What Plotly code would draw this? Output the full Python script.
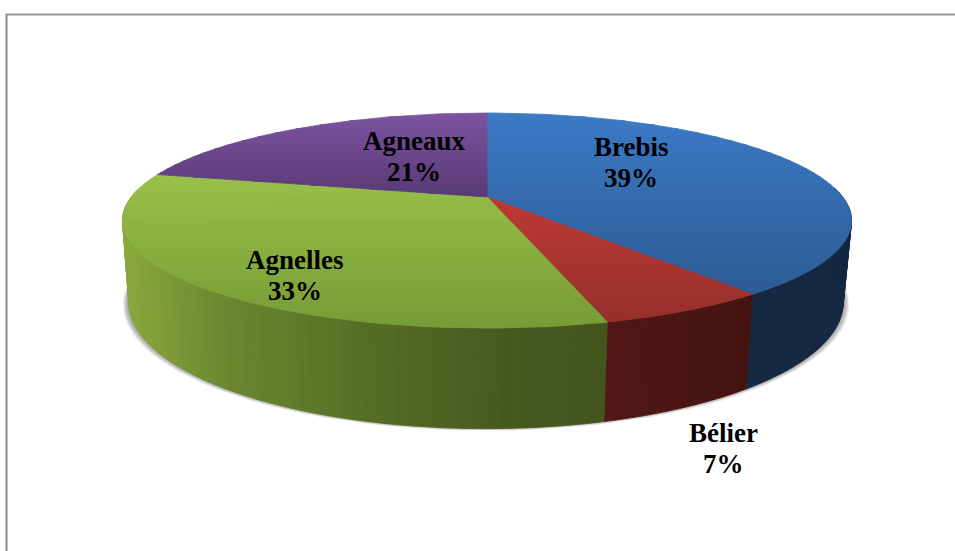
import math
import plotly.graph_objects as go

categories = ["Brebis", "Bélier", "Agnelles", "Agneaux"]
values = [39.4, 6.3, 33.0, 21.3]
percent_labels = ["39%", "7%", "33%", "21%"]

# Styles: top-face gradient (top colour, bottom colour), wall stops (x fraction, colour)
top_colors = [((60, 122, 198), (45, 92, 148)),
              ((190, 58, 52), (150, 48, 44)),
              ((153, 192, 72), (120, 156, 54)),
              ((124, 84, 160), (90, 58, 118))]
wall_stops = [[(0.0, (20, 40, 66)), (1.0, (20, 40, 66))],
              [(0.0, (82, 24, 21)), (1.0, (68, 19, 16))],
              [(0.0, (138, 168, 60)), (0.2, (108, 136, 48)), (0.5, (85, 110, 38)),
               (0.8, (70, 90, 30)), (1.0, (66, 85, 28))],
              [(0.0, (60, 40, 80)), (1.0, (60, 40, 80))]]
label_xy = [(631, 147), (723, 433), (295, 260), (414, 141)]
LINE_GAP = 31

# Perspective projection of the circular top and base
K = 0.219
TOP = dict(cx=487.0, cy=197.0, a=355.7, b=102.4)
BASE = dict(cx=486.0, cy=275.0, a=348.5, b=120.0)


def project(deg, p):
    t = math.radians(deg)
    w = 1 + K * math.cos(t)
    return p["cx"] + p["a"] * math.sin(t) / w, p["cy"] - p["b"] * math.cos(t) / w


def mix(c1, c2, f):
    f = min(1, max(0, f))
    return tuple(c1[i] + (c2[i] - c1[i]) * f for i in range(3))


def css(c):
    return "rgb(%d,%d,%d)" % tuple(round(v) for v in c)


def clip(poly, y0, keep_below):
    out = []
    for i, a in enumerate(poly):
        b = poly[(i + 1) % len(poly)]
        ina = a[1] >= y0 if keep_below else a[1] <= y0
        inb = b[1] >= y0 if keep_below else b[1] <= y0
        if ina:
            out.append(a)
        if ina != inb:
            f = (y0 - a[1]) / (b[1] - a[1])
            out.append((a[0] + (b[0] - a[0]) * f, y0))
    return out


def polygon(pts, color, lw=1.0):
    xs = [p[0] for p in pts] + [pts[0][0]]
    ys = [p[1] for p in pts] + [pts[0][1]]
    return go.Scatter(x=xs, y=ys, mode="lines", fill="toself", fillcolor=color,
                      line=dict(color=color, width=lw), hoverinfo="skip", showlegend=False)


fig = go.Figure()

# soft shadow under the base
arc_all = list(range(0, 360, 3))
for n in range(7, 0, -1):
    sx = n * 0.85
    sy = n * 0.45
    pts = []
    for d in arc_all:
        x, y = project(d, BASE)
        pts.append((BASE["cx"] + (x - BASE["cx"]) * (1 + sx / 357), y + sy - 1))
    fig.add_trace(polygon(pts, "rgba(60,60,60,0.085)", 0))

# slice angle boundaries
total = sum(values)
edges = [0.0]
for v in values:
    edges.append(edges[-1] + v / total * 360)

# walls
for i in range(len(values)):
    a0, a1 = max(edges[i], 85), min(edges[i + 1], 275)
    if a1 <= a0:
        continue
    n = max(1, int((a1 - a0) / 1.5))
    xs_ends = [project(a0, TOP)[0], project(a1, TOP)[0]]
    lo, hi = (min(xs_ends), max(xs_ends))
    if i == 2:
        lo = 122.0
    for j in range(n):
        d0 = a0 + (a1 - a0) * j / n
        d1 = a0 + (a1 - a0) * (j + 1) / n
        pts = [project(d0, TOP), project(d1, TOP), project(d1, BASE), project(d0, BASE)]
        xm = (pts[0][0] + pts[1][0]) / 2
        f = (xm - lo) / (hi - lo) if hi > lo else 0
        stops = wall_stops[i]
        col = stops[-1][1]
        for s0, s1 in zip(stops, stops[1:]):
            if f <= s1[0]:
                col = mix(s0[1], s1[1], (f - s0[0]) / (s1[0] - s0[0]))
                break
        fig.add_trace(polygon(pts, css(col), 0.8))

# top faces, split in horizontal bands for the vertical gradient
BAND = 4
for i in range(len(values)):
    a0, a1 = edges[i], edges[i + 1]
    n = max(4, int((a1 - a0) / 1.5))
    poly = [(TOP["cx"], TOP["cy"])] + [project(a0 + (a1 - a0) * j / n, TOP) for j in range(n + 1)]
    ymin = min(p[1] for p in poly)
    ymax = max(p[1] for p in poly)
    y = ymin
    while y < ymax:
        band = clip(clip(poly, y, True), y + BAND, False)
        if len(band) >= 3:
            f = (y + BAND / 2 - ymin) / (ymax - ymin)
            fig.add_trace(polygon(band, css(mix(top_colors[i][0], top_colors[i][1], f)), 0.8))
        y += BAND

annotations = []
for name, pct, (x, y) in zip(categories, percent_labels, label_xy):
    for k, txt in enumerate([name, pct]):
        annotations.append(dict(x=x, y=y + k * LINE_GAP, text=txt, showarrow=False,
                                xref="x", yref="y", xanchor="center", yanchor="middle",
                                font=dict(family="Liberation Serif", size=27, color="#000000", weight="bold")))

shapes = [
    dict(type="line", x0=6.5, x1=6.5, y0=14, y1=551, xref="x", yref="y",
         line=dict(color="#8c8c8c", width=2), layer="below"),
    dict(type="line", x0=6, x1=955, y0=14.5, y1=14.5, xref="x", yref="y",
         line=dict(color="#969696", width=2), layer="below"),
]

fig.update_layout(
    width=955, height=551, margin=dict(l=0, r=0, t=0, b=0),
    paper_bgcolor="white", plot_bgcolor="white", showlegend=False,
    xaxis=dict(range=[0, 955], visible=False, fixedrange=True),
    yaxis=dict(range=[551, 0], visible=False, fixedrange=True),
    annotations=annotations, shapes=shapes,
)
fig.write_html("out.html", config={"displayModeBar": False},
               post_script="document.body.style.margin='0';document.documentElement.style.overflow='hidden';")
